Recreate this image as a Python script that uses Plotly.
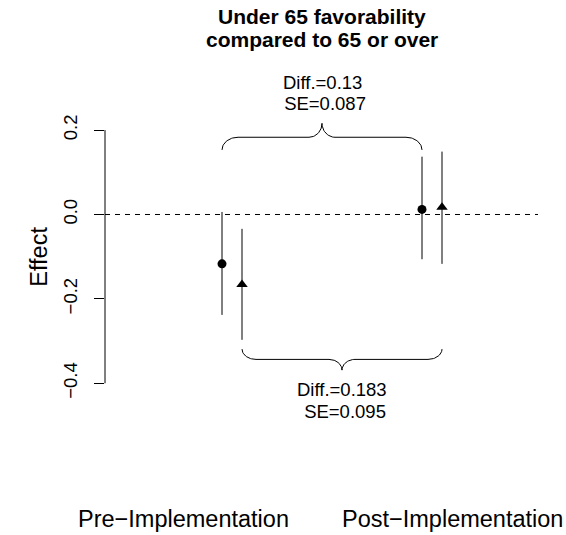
import numpy as np
import plotly.graph_objects as go

# ---------------- data ----------------
categories = ["Pre\u2212Implementation", "Post\u2212Implementation"]
cat_pos = [1, 2]
circle_est = [-0.117, 0.012]
circle_lo = [-0.238, -0.106]
circle_hi = [0.006, 0.137]
tri_est = [-0.166, 0.017]
tri_lo = [-0.297, -0.117]
tri_hi = [-0.034, 0.149]
top_diff_text = ["Diff.=0.13", "\u00a0SE=0.087"]
bot_diff_text = ["Diff.=0.183", "\u00a0SE=0.095"]
y_ticks = [-0.4, -0.2, 0.0, 0.2]
y_tick_text = ["\u22120.4", "\u22120.2", "0.0", "0.2"]

FONT = "Liberation Sans, Arial, sans-serif"
OFF = 0.05

circle_x = [c - OFF for c in cat_pos]
tri_x = [c + OFF for c in cat_pos]


def brace(x0, x1, yb, h1, h2, a, c, n=24):
    xm = (x0 + x1) / 2
    xs, ys = [], []
    t = np.linspace(np.pi, np.pi / 2, n)
    xs += list(x0 + a + a * np.cos(t)); ys += list(yb + h1 * np.sin(t))
    t = np.linspace(-np.pi / 2, 0, n)
    xs += list(xm - c + c * np.cos(t)); ys += list(yb + h1 + h2 + h2 * np.sin(t))
    t = np.linspace(np.pi, 1.5 * np.pi, n)
    xs += list(xm + c + c * np.cos(t)); ys += list(yb + h1 + h2 + h2 * np.sin(t))
    t = np.linspace(np.pi / 2, 0, n)
    xs += list(x1 - a + a * np.cos(t)); ys += list(yb + h1 * np.sin(t))
    return xs, ys, xm, yb + h1 + h2


fig = go.Figure()

# zero reference line
fig.add_shape(type="line", xref="paper", x0=0, x1=1, yref="y", y0=0, y1=0,
              line=dict(color="black", width=1, dash="5px,5px"))
# y axis line (only across tick range)
fig.add_shape(type="line", xref="paper", x0=0, x1=0, yref="y",
              y0=min(y_ticks), y1=max(y_ticks), line=dict(color="black", width=1))

fig.add_trace(go.Scatter(
    x=circle_x, y=circle_est, mode="markers",
    marker=dict(symbol="circle", size=9, color="black"),
    error_y=dict(type="data", symmetric=False,
                 array=[h - e for h, e in zip(circle_hi, circle_est)],
                 arrayminus=[e - l for e, l in zip(circle_est, circle_lo)],
                 thickness=1, width=0, color="black"),
    showlegend=False, cliponaxis=False))
fig.add_trace(go.Scatter(
    x=tri_x, y=tri_est, mode="markers",
    marker=dict(symbol="triangle-up", size=10, color="black"),
    error_y=dict(type="data", symmetric=False,
                 array=[h - e for h, e in zip(tri_hi, tri_est)],
                 arrayminus=[e - l for e, l in zip(tri_est, tri_lo)],
                 thickness=1, width=0, color="black"),
    showlegend=False, cliponaxis=False))

# braces
bx, by, bxm, btip = brace(circle_x[0], circle_x[1], max(circle_hi) + 0.016,
                          0.030, 0.033, 0.08, 0.065)
fig.add_trace(go.Scatter(x=bx, y=by, mode="lines", line=dict(color="black", width=1),
                         showlegend=False, cliponaxis=False, hoverinfo="skip"))
cx, cy, cxm, ctip = brace(tri_x[0], tri_x[1], min(tri_lo) - 0.022,
                          -0.0244, -0.0254, 0.07, 0.065)
fig.add_trace(go.Scatter(x=cx, y=cy, mode="lines", line=dict(color="black", width=1),
                         showlegend=False, cliponaxis=False, hoverinfo="skip"))

ann = []
tf = dict(family=FONT, size=18.5, color="black")
ann.append(dict(x=bxm, y=btip, xref="x", yref="y", text=top_diff_text[0], showarrow=False,
                yshift=41, font=tf, yanchor="middle", xanchor="center"))
ann.append(dict(x=bxm, y=btip, xref="x", yref="y", text=top_diff_text[1], showarrow=False,
                yshift=20, font=tf, yanchor="middle", xanchor="center"))
ann.append(dict(x=cxm, y=ctip, xref="x", yref="y", text=bot_diff_text[0], showarrow=False,
                yshift=-19, font=tf, yanchor="middle", xanchor="center"))
ann.append(dict(x=cxm, y=ctip, xref="x", yref="y", text=bot_diff_text[1], showarrow=False,
                yshift=-41, font=tf, yanchor="middle", xanchor="center"))

# title
ann.append(dict(x=0.5, y=1, xref="paper", yref="paper", text="<b>Under 65 favorability</b>",
                showarrow=False, yshift=84, font=dict(family=FONT, size=21, color="black"),
                yanchor="middle"))
ann.append(dict(x=0.5, y=1, xref="paper", yref="paper", text="<b>compared to 65 or over</b>",
                showarrow=False, yshift=61, font=dict(family=FONT, size=21, color="black"),
                yanchor="middle"))

# y label
ann.append(dict(x=0, y=(min(y_ticks) + max(y_ticks)) / 2, xref="paper", yref="y", text="Effect",
                textangle=-90, showarrow=False, xshift=-81,
                font=dict(family=FONT, size=23.5, color="black")))

# category labels
label_x = [0.755, 2.10]
for lx, cat in zip(label_x, categories):
    ann.append(dict(x=lx, y=0, xref="x", yref="paper", text=cat, showarrow=False,
                    yshift=-89, yanchor="middle",
                    font=dict(family=FONT, size=23.5, color="black")))

fig.update_layout(
    width=566, height=535,
    margin=dict(l=105, r=28, t=100, b=105),
    plot_bgcolor="white", paper_bgcolor="white",
    annotations=ann,
    xaxis=dict(range=[0.365, 2.53], showgrid=False, zeroline=False, showline=False,
               showticklabels=False, ticks=""),
    yaxis=dict(range=[-0.5107, 0.2713], showgrid=False, zeroline=False, showline=False,
               tickmode="array", tickvals=y_ticks, ticktext=y_tick_text,
               ticks="outside", ticklen=10, tickcolor="black", tickwidth=1,
               tickangle=-90, ticklabelstandoff=10,
               tickfont=dict(family=FONT, size=18.5, color="black")),
    font=dict(family=FONT),
)

fig.write_html("out.html")
